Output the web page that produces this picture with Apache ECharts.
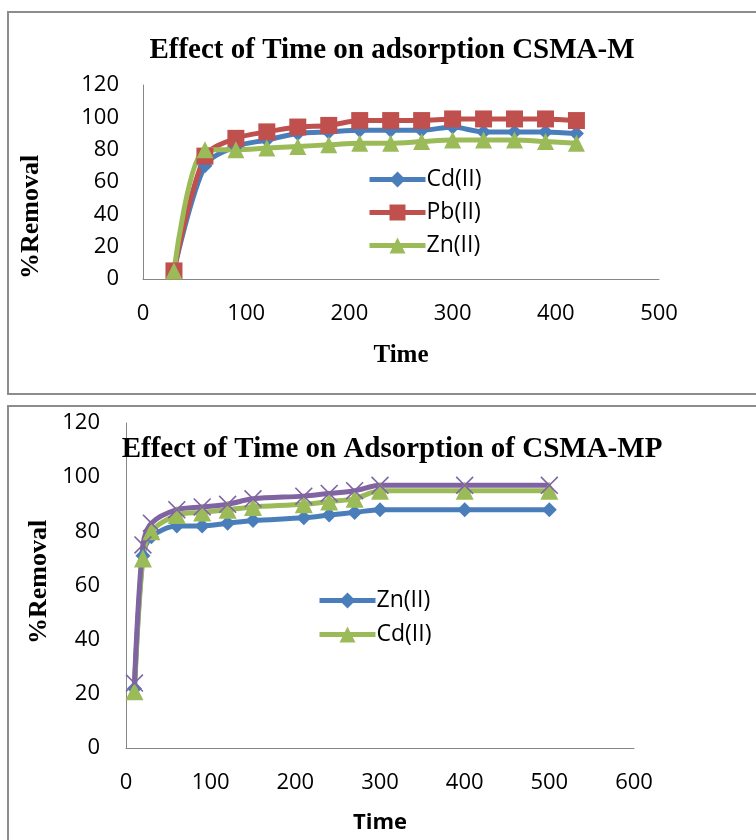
<!DOCTYPE html>
<html>
<head>
<meta charset="utf-8">
<script src="https://cdn.jsdelivr.net/npm/echarts@6/dist/echarts.min.js"></script>
<style>
  html, body { margin: 0; padding: 0; background: #fff; }
  #chart { width: 756px; height: 840px; }
</style>
</head>
<body>
<div id="chart"></div>
<script>
// Top chart: CSMA-M
const timeM = [30, 60, 90, 120, 150, 180, 210, 240, 270, 300, 330, 360, 390, 420];
const cdM = [5, 70, 82, 86, 90, 91, 92, 92, 92, 94, 91, 91, 91, 90];
const pbM = [5, 76, 87, 91, 94, 95, 98, 98, 98, 99, 99, 99, 99, 98];
const znM = [5, 80, 80, 81, 82, 83, 84, 84, 85, 86, 86, 86, 85, 84];

// Bottom chart: CSMA-MP (third series has no legend entry)
const timeMP = [10, 20, 30, 60, 90, 120, 150, 210, 240, 270, 300, 400, 500];
const znMP = [22, 71, 78, 82, 82, 83, 84, 85, 86, 87, 88, 88, 88];
const cdMP = [21, 70, 80, 86, 87, 88, 89, 90, 91, 92, 95, 95, 95];
const pbMP = [24, 75, 83, 88, 89, 90, 92, 93, 94, 95, 97, 97, 97];

const BLUE = "#4a7ebb";
const RED = "#c0504d";
const GREEN = "#9bbb59";
const PURPLE = "#8064a2";
const CROSS = "path://M0,1L1,0L8,7L15,0L16,1L9,8L16,15L15,16L8,9L1,16L0,15L7,8Z";

const pairs = (xs, ys) => xs.map((x, i) => [x, ys[i]]);
// series names carry a chart suffix so the two legends don't mix colours
const shortName = (n) => n.split(" ")[0];

const tickFont = { fontFamily: "Open Sans", fontSize: 22, color: "#000" };
const axisLine = { show: true, lineStyle: { color: "#868686", width: 1 } };
const serifBold = "bold 26px 'Liberation Serif'";

const chart = echarts.init(document.getElementById("chart"));

const line = (name, xi, data, color, symbol, size) => ({
  name,
  type: "line",
  xAxisIndex: xi,
  yAxisIndex: xi,
  data,
  smooth: 0.3,
  symbol,
  symbolSize: size,
  lineStyle: { color, width: 5 },
  itemStyle: { color },
});

const legendText = { fontFamily: "Open Sans", fontSize: 23, color: "#000", padding: [0, 0, 0, -4] };

chart.setOption({
  animation: false,
  backgroundColor: "#fff",
  graphic: [
    { type: "rect", shape: { x: 8, y: 12, width: 800, height: 382 }, style: { fill: "none", stroke: "#8c8c8c", lineWidth: 2 } },
    { type: "rect", shape: { x: 8, y: 406, width: 800, height: 500 }, style: { fill: "none", stroke: "#8c8c8c", lineWidth: 2 } },
    { type: "text", x: 31, y: 217, rotation: Math.PI / 2, style: { text: "%Removal", font: serifBold, fill: "#000", align: "center", verticalAlign: "middle" } },
    { type: "text", x: 39, y: 582, rotation: Math.PI / 2, style: { text: "%Removal", font: serifBold, fill: "#000", align: "center", verticalAlign: "middle" } },
  ],
  title: [
    {
      text: "Effect of Time on adsorption CSMA-M",
      left: 387, top: 31, textAlign: "center",
      textStyle: { fontFamily: "Liberation Serif", fontWeight: "bold", fontSize: 29, color: "#000" },
    },
    {
      text: "Effect of Time on Adsorption of CSMA-MP",
      left: 387, top: 430, textAlign: "center",
      textStyle: { fontFamily: "Liberation Serif", fontWeight: "bold", fontSize: 29, color: "#000" },
    },
  ],
  legend: [
    {
      data: ["Cd(II) M", "Pb(II) M", "Zn(II) M"],
      formatter: shortName,
      orient: "vertical",
      left: 362, top: 163,
      itemWidth: 56, itemHeight: 20, itemGap: 10,
      lineStyle: { width: 5 },
      textStyle: legendText,
    },
    {
      data: ["Zn(II) MP", "Cd(II) MP"],
      formatter: shortName,
      orient: "vertical",
      left: 312, top: 584,
      itemWidth: 56, itemHeight: 20, itemGap: 11,
      lineStyle: { width: 5 },
      textStyle: legendText,
    },
  ],
  grid: [
    { left: 143, top: 85, width: 516, height: 194 },
    { left: 126, top: 423, width: 508, height: 325 },
  ],
  xAxis: [
    {
      gridIndex: 0, type: "value", min: 0, max: 500, interval: 100,
      axisLine, axisTick: { show: false }, splitLine: { show: false },
      axisLabel: { ...tickFont, margin: 24 },
      name: "Time", nameLocation: "middle", nameGap: 64,
      nameTextStyle: { fontFamily: "Liberation Serif", fontWeight: "bold", fontSize: 25, color: "#000" },
    },
    {
      gridIndex: 1, type: "value", min: 0, max: 600, interval: 100,
      axisLine, axisTick: { show: false }, splitLine: { show: false },
      axisLabel: { ...tickFont, margin: 24 },
      name: "Time", nameLocation: "middle", nameGap: 64,
      nameTextStyle: { fontFamily: "Open Sans", fontWeight: "bold", fontSize: 22, color: "#000" },
    },
  ],
  yAxis: [
    {
      gridIndex: 0, type: "value", min: 0, max: 120, interval: 20,
      axisLine, axisTick: { show: false }, splitLine: { show: false },
      axisLabel: { ...tickFont, margin: 24 },
    },
    {
      gridIndex: 1, type: "value", min: 0, max: 120, interval: 20,
      axisLine, axisTick: { show: false }, splitLine: { show: false },
      axisLabel: { ...tickFont, margin: 26 },
    },
  ],
  series: [
    line("Cd(II) M", 0, pairs(timeM, cdM), BLUE, "diamond", 15),
    line("Pb(II) M", 0, pairs(timeM, pbM), RED, "rect", 17),
    line("Zn(II) M", 0, pairs(timeM, znM), GREEN, "triangle", 17),
    line("Zn(II) MP", 1, pairs(timeMP, znMP), BLUE, "diamond", 15),
    line("Cd(II) MP", 1, pairs(timeMP, cdMP), GREEN, "triangle", 18),
    line("Pb(II) MP", 1, pairs(timeMP, pbMP), PURPLE, CROSS, 18),
  ],
});
</script>
</body>
</html>
